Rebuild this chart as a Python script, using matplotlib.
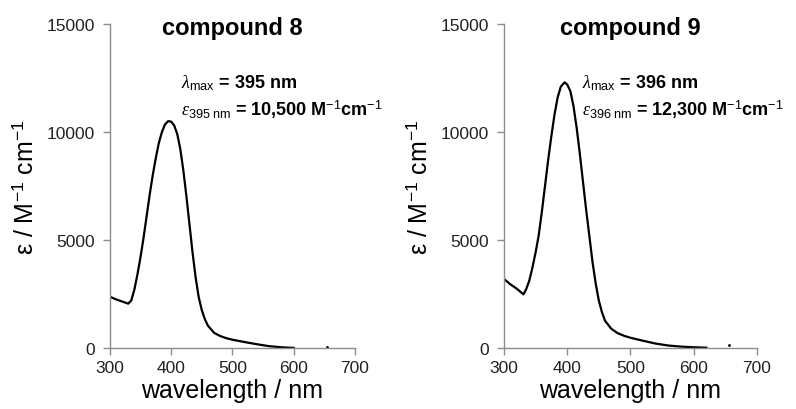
import numpy as np
import matplotlib
matplotlib.use("Agg")
import matplotlib.pyplot as plt

# absorption spectra (wavelength in nm, epsilon in M-1 cm-1)
wl_8 = [300, 310, 320, 330, 335, 340, 345, 350, 355, 360, 365, 370, 375, 380,
        385, 390, 395, 400, 405, 410, 415, 420, 425, 430, 435, 440, 445, 450,
        455, 460, 470, 480, 490, 500, 520, 540, 560, 580, 600]
eps_8 = [2370, 2250, 2150, 2050, 2200, 2700, 3400, 4200, 5100, 6100, 7100, 8000,
         8800, 9500, 10000, 10350, 10500, 10480, 10300, 9900, 9200, 8200, 7000,
         5700, 4400, 3250, 2350, 1750, 1330, 1030, 700, 550, 450, 380, 270, 170,
         80, 30, 0]

wl_9 = [300, 310, 320, 331, 335, 340, 345, 350, 355, 360, 365, 370, 375, 380,
        385, 390, 396, 400, 405, 410, 415, 420, 425, 430, 435, 440, 445, 450,
        455, 460, 470, 480, 490, 500, 520, 540, 560, 580, 600, 620]
eps_9 = [3200, 2950, 2750, 2480, 2700, 3100, 3700, 4400, 5200, 6300, 7500, 8700,
         9800, 10800, 11600, 12100, 12300, 12200, 11900, 11200, 10200, 9000, 7700,
         6400, 5200, 4000, 3000, 2200, 1650, 1250, 880, 680, 560, 470, 330, 200,
         110, 60, 30, 10]

# stray points near 655 nm
dot_wl = [655]
dot_8 = [40]
dot_9 = [120]

titles = ["compound 8", "compound 9"]
lam_max = [395, 396]
eps_max = ["10,500", "12,300"]

plt.rcParams.update({
    "font.family": ["Liberation Sans", "DejaVu Sans"],
    "mathtext.fontset": "custom",
    "mathtext.rm": "Liberation Sans:bold",
    "mathtext.bf": "Liberation Sans:bold",
    "mathtext.sf": "Liberation Sans",
    "mathtext.it": "Liberation Serif:italic",
})

fig = plt.figure(figsize=(7.96, 4.10), dpi=100)
ax1 = fig.add_axes([0.138, 0.149, 0.308, 0.790])
ax2 = fig.add_axes([0.633, 0.149, 0.318, 0.790])

spine_col = "#8c8c8c"
data = [(wl_8, eps_8, dot_8, 416), (wl_9, eps_9, dot_9, 424)]

for i, ax in enumerate([ax1, ax2]):
    wl, eps, dot, tx = data[i]
    ax.plot(wl, eps, color="black", lw=1.6, solid_joinstyle="round")
    ax.plot(dot_wl, dot, ".", color="black", ms=2)
    ax.set_xlim(300, 700)
    ax.set_ylim(0, 15000)
    ax.set_xticks([300, 400, 500, 600, 700])
    ax.set_xticklabels(["300", "400", "500", "600", "700"])
    ax.set_yticks([0, 5000, 10000, 15000])
    ax.set_yticklabels(["0", "5000", "10000", "15000"])
    for s in ["top", "right"]:
        ax.spines[s].set_visible(False)
    for s in ["left", "bottom"]:
        ax.spines[s].set_color(spine_col)
        ax.spines[s].set_linewidth(1.0)
    ax.tick_params(axis="both", direction="out", length=5, width=1.0,
                   color=spine_col, labelsize=12.5, labelcolor="#222222")
    ax.tick_params(axis="x", pad=4)
    ax.tick_params(axis="y", pad=6)
    ax.set_xlabel("wavelength / nm", fontsize=18, labelpad=2)
    ax.set_ylabel(r"ε / M$^{\mathsf{-1}}$ cm$^{\mathsf{-1}}$", fontsize=18, labelpad=6)
    ax.text(0.5, 0.99, titles[i], transform=ax.transAxes, ha="center",
            va="center", fontsize=17, fontweight="bold")
    ax.text(tx, 12315, r"$\lambda_{\mathsf{max}}$" + " = %d nm" % lam_max[i],
            ha="left", va="center", fontsize=13, fontweight="bold")
    ax.text(tx, 11065,
            r"$\varepsilon_{\mathsf{%d\ nm}}$" % lam_max[i] + " = " + eps_max[i]
            + r" M$^{\mathsf{-1}}$cm$^{\mathsf{-1}}$",
            ha="left", va="center", fontsize=13, fontweight="bold")

fig.savefig("out.png", dpi=100)
